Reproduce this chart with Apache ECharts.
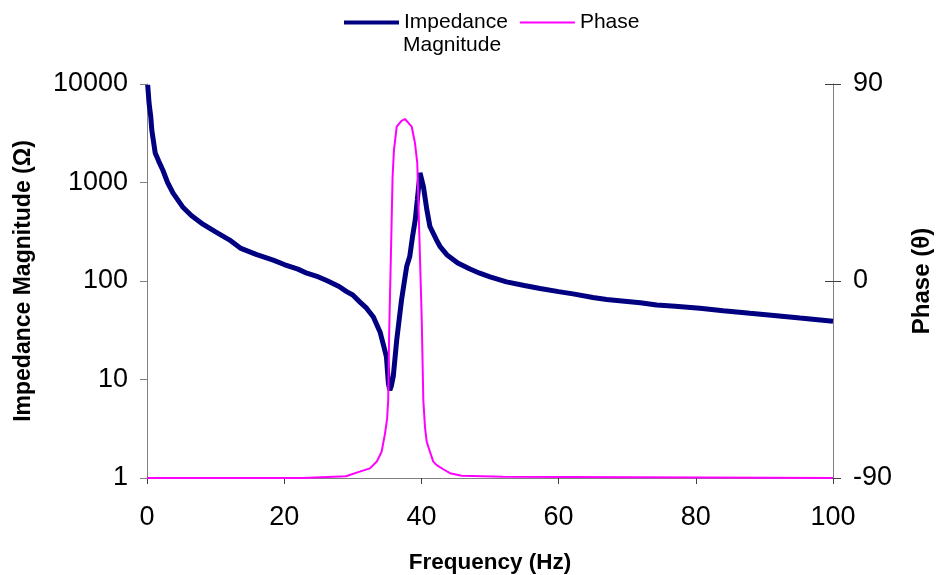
<!DOCTYPE html>
<html>
<head>
<meta charset="utf-8">
<script src="https://cdn.jsdelivr.net/npm/echarts@6/dist/echarts.min.js"></script>
<style>html,body{margin:0;padding:0;background:#fff;}#c{width:937px;height:575px;}</style>
</head>
<body>
<div id="c"></div>
<script>
// Impedance magnitude (Ohm) vs frequency (Hz)
const impFreq = [0.1, 0.3, 0.55, 0.7, 1.2, 1.7, 2.3, 3.0, 3.8, 5.2, 6.5, 8.2, 10, 12, 13.6, 16, 18.4, 20, 22, 23.3, 25, 26.2, 28, 29.1, 30, 31.05, 32, 33, 34, 34.5, 34.9, 35.2, 35.4, 35.6, 35.9, 36.4, 37.1, 37.85, 38.3, 38.7, 39.1, 39.4, 39.8, 40.3, 40.8, 41.25, 42.2, 42.7, 43.7, 45.3, 47, 48.5, 50, 52.4, 55, 57.3, 60, 62.1, 65, 67, 70, 71.9, 74.3, 77, 80.6, 84, 87.9, 91, 95.2, 100];
const impVal = [9800, 6400, 4650, 3400, 1990, 1650, 1340, 1000, 780, 565, 460, 375, 315, 262, 216, 185, 163, 147, 132, 120, 110, 101, 88, 78, 72, 61, 53, 43, 30, 22, 17, 9, 7.8, 8.5, 10.7, 25, 64, 140, 177, 280, 417, 664, 1250, 905, 525, 356, 261, 225, 185, 152, 133, 120, 110, 98, 90, 84, 78, 74, 68, 65, 62, 60, 57, 55.5, 53, 50, 47, 45, 42, 39];
// Phase (degrees) vs frequency (Hz)
const phFreq = [0, 22.75, 22.8, 29.0, 29.1, 31, 32.5, 33.5, 34.2, 34.7, 35.0, 35.16, 35.3, 35.57, 35.8, 36.0, 36.4, 37.1, 37.6, 37.85, 38.59, 39.07, 39.4, 39.69, 40.04, 40.28, 40.52, 40.77, 41.25, 41.73, 42.23, 43.19, 44.17, 45.87, 51.9, 51.95, 100];
const phVal = [-90, -90, -89.2, -89.2, -88.3, -87.1, -85.6, -82.5, -78, -69.6, -63, -54.4, -24, 14, 47.7, 59.8, 70.5, 73.2, 74, 73.2, 70.5, 62.9, 53.8, 21.8, -16.3, -54.4, -66.6, -73.4, -78, -82.5, -84.1, -86, -87.8, -89, -89.4, -90, -90];
const xTicks = [0, 20, 40, 60, 80, 100];
const leftTicks = [1, 10, 100, 1000, 10000];
const rightTicks = [-90, 0, 90];

const FONT = 'Liberation Sans, Arial, sans-serif';
const chart = echarts.init(document.getElementById('c'), null, {renderer: 'canvas'});
const impData = impFreq.map((f, i) => [f, impVal[i]]);
const phData = phFreq.map((f, i) => [f, phVal[i]]);

chart.setOption({
  animation: false,
  backgroundColor: '#ffffff',
  textStyle: {fontFamily: FONT},
  grid: {left: 147, right: 104, top: 84, bottom: 97, containLabel: false, outerBoundsMode: 'none'},
  legend: {
    left: 342, top: 12, padding: 0, itemGap: 11, itemWidth: 55, itemHeight: 14,
    textStyle: {fontSize: 21, color: '#000', fontFamily: FONT},
    itemStyle: {opacity: 0},
    formatter: n => n === 'Impedance Magnitude' ? 'Impedance' : n,
    data: [
      {name: 'Impedance Magnitude', itemStyle: {opacity: 0}, lineStyle: {width: 4}},
      {name: 'Phase', itemStyle: {opacity: 0}, lineStyle: {width: 2}}
    ]
  },
  graphic: [{
    type: 'text', left: 403, top: 35,
    style: {text: 'Magnitude', fontSize: 21, fill: '#000', fontFamily: FONT}
  }],
  xAxis: {
    type: 'value', min: xTicks[0], max: xTicks[xTicks.length - 1], interval: 20,
    name: 'Frequency (Hz)', nameLocation: 'middle', nameGap: 73,
    nameTextStyle: {fontSize: 22.5, fontWeight: 'bold', color: '#000', fontFamily: FONT},
    axisLine: {onZero: false, lineStyle: {color: '#808080', width: 1}},
    axisTick: {show: true, inside: false, length: 6, lineStyle: {color: '#404040'}},
    axisLabel: {fontSize: 27, color: '#000', margin: 26, fontFamily: FONT},
    splitLine: {show: false}
  },
  yAxis: [{
    type: 'log', logBase: 10, min: leftTicks[0], max: leftTicks[leftTicks.length - 1],
    position: 'left',
    name: 'Impedance Magnitude (Ω)', nameLocation: 'middle', nameGap: 112, nameRotate: 90,
    nameTextStyle: {fontSize: 23, fontWeight: 'bold', color: '#000', fontFamily: FONT},
    axisLine: {show: true, lineStyle: {color: '#808080', width: 1}},
    axisTick: {show: true, inside: false, length: 7, lineStyle: {color: '#808080'}},
    axisLabel: {fontSize: 27, color: '#000', margin: 19, fontFamily: FONT, formatter: v => String(Math.round(v))},
    splitLine: {show: false}
  }, {
    type: 'value', min: rightTicks[0], max: rightTicks[rightTicks.length - 1], interval: 90,
    position: 'right',
    name: 'Phase (θ)', nameLocation: 'middle', nameGap: 77, nameRotate: 90,
    nameTextStyle: {fontSize: 24, fontWeight: 'bold', color: '#000', fontFamily: FONT},
    axisLine: {show: true, lineStyle: {color: '#808080', width: 1}},
    axisTick: {show: true, inside: false, length: 8, lineStyle: {color: '#404040'}},
    axisLabel: {fontSize: 27, color: '#000', margin: 20, fontFamily: FONT},
    splitLine: {show: false}
  }, {
    type: 'value', min: rightTicks[0], max: rightTicks[rightTicks.length - 1], interval: 90,
    position: 'right',
    axisLine: {show: false},
    axisTick: {show: true, inside: true, length: 8, lineStyle: {color: '#404040'}},
    axisLabel: {show: false},
    splitLine: {show: false}
  }],
  series: [{
    name: 'Impedance Magnitude', type: 'line', yAxisIndex: 0,
    data: impData, symbol: 'none', showSymbol: false,
    lineStyle: {color: '#000080', width: 5},
    itemStyle: {color: '#000080'}
  }, {
    name: 'Phase', type: 'line', yAxisIndex: 1,
    data: phData, symbol: 'none', showSymbol: false,
    lineStyle: {color: '#FF00FF', width: 2},
    itemStyle: {color: '#FF00FF'}
  }]
});
</script>
</body>
</html>
